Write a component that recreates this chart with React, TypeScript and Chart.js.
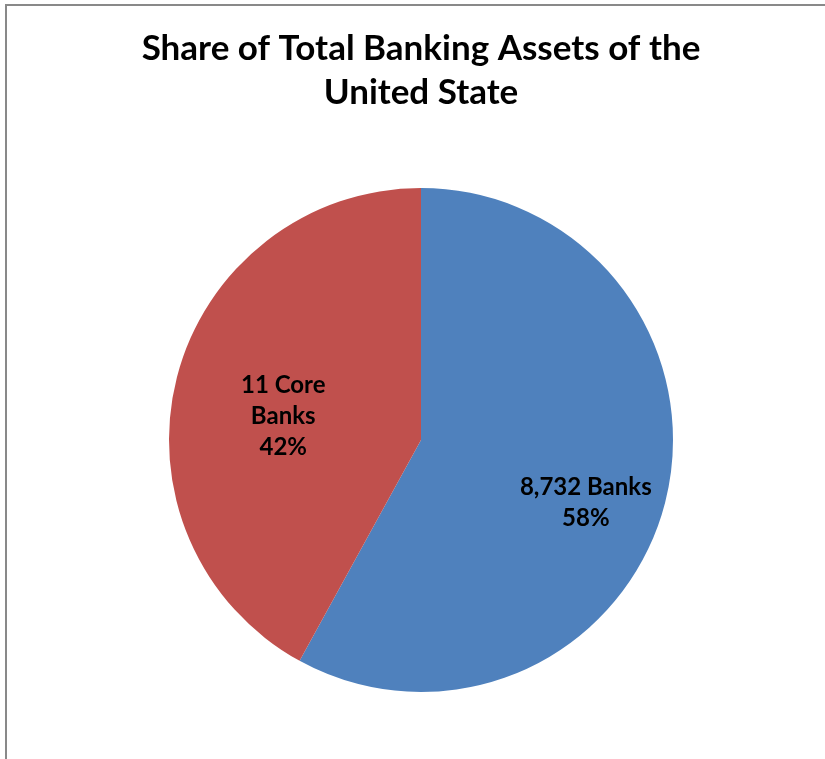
import React, { useEffect, useRef } from "react";
import { Chart, registerables } from "chart.js";

Chart.register(...registerables);

const TITLE_LINES = ["Share of Total Banking Assets of the", "United State"];
const CATEGORIES = ["8,732 Banks", "11 Core Banks"];
const LABEL_LINES = [["8,732 Banks"], ["11 Core", "Banks"]];
const VALUES = [58, 42];
const COLORS = ["#4F81BD", "#C0504D"];

const FONT = "Lato, 'Open Sans', sans-serif";

const frame = {
  id: "frame",
  beforeDraw(chart: any) {
    const ctx = chart.ctx;
    ctx.save();
    ctx.fillStyle = "#ffffff";
    ctx.fillRect(0, 0, chart.width, chart.height);
    ctx.fillStyle = "#898989";
    ctx.fillRect(5, 4, 2, chart.height - 4);
    ctx.fillRect(5, 4, chart.width - 5, 2);
    ctx.restore();
  },
};

// placement of labels inside each slice: radius fraction and angle tweak (deg)
const LABEL_PLACE = [
  { frac: 0.7, tweak: 6.5 },
  { frac: 0.555, tweak: -4.5 },
];

const sliceLabels = {
  id: "sliceLabels",
  afterDatasetsDraw(chart: any) {
    const ctx = chart.ctx;
    const meta = chart.getDatasetMeta(0);
    const data = chart.data.datasets[0].data as number[];
    const total = data.reduce((a, b) => a + b, 0);
    ctx.save();
    ctx.font = `bold 24px ${FONT}`;
    ctx.fillStyle = "#000";
    ctx.textAlign = "center";
    ctx.textBaseline = "middle";
    const lh = 31;
    meta.data.forEach((arc: any, i: number) => {
      const p = arc.getProps(["x", "y", "startAngle", "endAngle", "outerRadius"], true);
      const mid = (p.startAngle + p.endAngle) / 2 + (LABEL_PLACE[i].tweak * Math.PI) / 180;
      const r = p.outerRadius * LABEL_PLACE[i].frac;
      const cx = p.x + Math.cos(mid) * r;
      const cy = p.y + Math.sin(mid) * r;
      const lines = [...LABEL_LINES[i], Math.round((data[i] / total) * 100) + "%"];
      const y0 = cy - ((lines.length - 1) * lh) / 2;
      lines.forEach((t, k) => ctx.fillText(t, cx, y0 + k * lh));
    });
    ctx.restore();
  },
};

export default function App() {
  const ref = useRef<HTMLCanvasElement | null>(null);
  useEffect(() => {
    if (!ref.current) return;
    const chart = new Chart(ref.current, {
      type: "pie",
      data: {
        labels: CATEGORIES,
        datasets: [
          {
            data: VALUES,
            backgroundColor: COLORS,
            borderWidth: 0,
          },
        ],
      },
      options: {
        responsive: false,
        animation: false,
        layout: { padding: { top: 0, bottom: 67, left: 100, right: 83 } },
        plugins: {
          legend: { display: false },
          tooltip: { enabled: false },
          title: {
            display: true,
            text: TITLE_LINES,
            color: "#000",
            font: { family: FONT, size: 35, weight: "bold", lineHeight: 44 / 35 },
            padding: { top: 27, bottom: 73 },
          },
        },
      },
      plugins: [frame, sliceLabels],
    });
    return () => chart.destroy();
  }, []);
  return (
    <div style={{ position: "fixed", left: 0, top: 0, width: 825, height: 759 }}>
      <canvas ref={ref} width={825} height={759} style={{ display: "block" }} />
    </div>
  );
}
